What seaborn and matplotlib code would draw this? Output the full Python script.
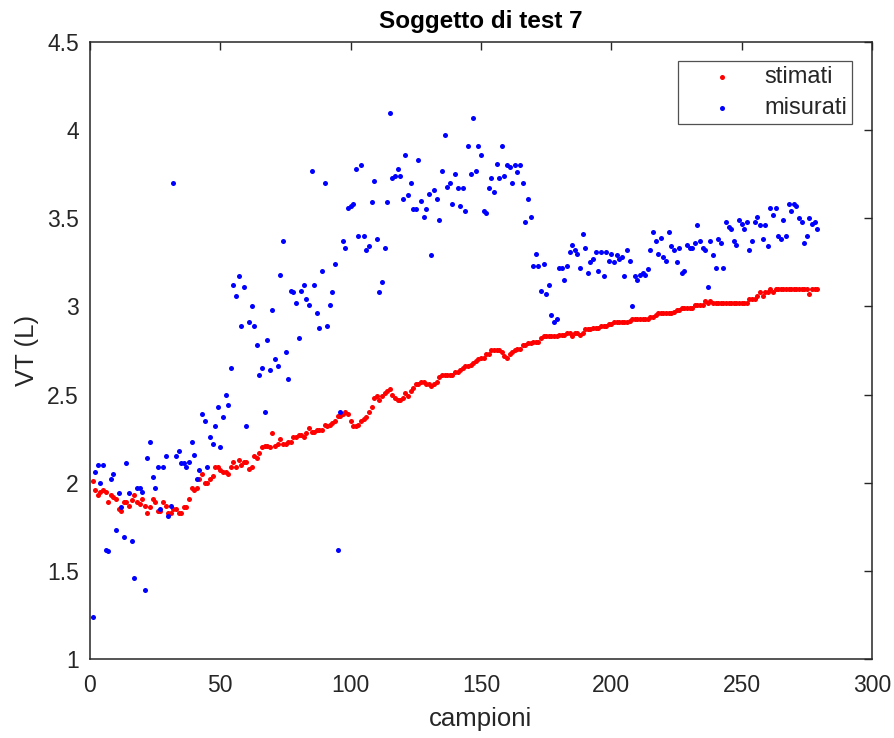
import numpy as np
import pandas as pd
import seaborn as sns
import matplotlib
matplotlib.use("Agg")
import matplotlib.pyplot as plt

# stimati (red) - one value per sample
stimati = [
    2.01, 1.96, 1.93, 1.95, 1.96, 1.95, 1.89, 1.93, 1.92, 1.91,
    1.85, 1.84, 1.89, 1.89, 1.87, 1.90, 1.93, 1.89, 1.88, 1.91,
    1.87, 1.83, 1.86, 1.91, 1.89, 1.84, 1.84, 1.89, 1.87, 1.83,
    1.83, 1.85, 1.85, 1.83, 1.83, 1.86, 1.86, 1.91, 1.97, 1.96,
    1.97, 2.02, 2.05, 2.00, 2.00, 2.02, 2.04, 2.09, 2.09, 2.07,
    2.06, 2.06, 2.05, 2.09, 2.12, 2.09, 2.13, 2.10, 2.12, 2.12,
    2.08, 2.09, 2.15, 2.14, 2.17, 2.20, 2.21, 2.21, 2.20, 2.28,
    2.21, 2.22, 2.25, 2.22, 2.22, 2.23, 2.23, 2.26, 2.26, 2.27,
    2.27, 2.26, 2.28, 2.31, 2.29, 2.29, 2.30, 2.30, 2.30, 2.33,
    2.32, 2.33, 2.34, 2.35, 2.38, 2.38, 2.39, 2.40, 2.39, 2.35,
    2.32, 2.32, 2.33, 2.35, 2.36, 2.37, 2.40, 2.43, 2.48, 2.49,
    2.47, 2.49, 2.51, 2.52, 2.53, 2.50, 2.48, 2.47, 2.47, 2.48,
    2.51, 2.49, 2.52, 2.54, 2.56, 2.56, 2.57, 2.57, 2.56, 2.56,
    2.55, 2.56, 2.57, 2.60, 2.61, 2.61, 2.61, 2.61, 2.61, 2.63,
    2.63, 2.64, 2.65, 2.66, 2.66, 2.67, 2.68, 2.69, 2.70, 2.71,
    2.71, 2.73, 2.73, 2.75, 2.75, 2.75, 2.75, 2.74, 2.72, 2.71,
    2.73, 2.74, 2.75, 2.76, 2.76, 2.78, 2.78, 2.79, 2.79, 2.80,
    2.80, 2.80, 2.82, 2.83, 2.83, 2.83, 2.83, 2.83, 2.83, 2.84,
    2.84, 2.84, 2.85, 2.85, 2.83, 2.85, 2.85, 2.84, 2.85, 2.87,
    2.87, 2.87, 2.88, 2.88, 2.88, 2.89, 2.89, 2.89, 2.90, 2.90,
    2.91, 2.91, 2.91, 2.91, 2.91, 2.91, 2.92, 2.93, 2.93, 2.93,
    2.93, 2.93, 2.93, 2.93, 2.94, 2.94, 2.95, 2.96, 2.96, 2.96,
    2.96, 2.96, 2.96, 2.97, 2.98, 2.98, 2.99, 2.99, 2.99, 2.99,
    2.99, 3.01, 3.01, 3.01, 3.01, 3.03, 3.02, 3.03, 3.02, 3.02,
    3.02, 3.02, 3.02, 3.02, 3.02, 3.02, 3.02, 3.02, 3.02, 3.02,
    3.02, 3.02, 3.04, 3.04, 3.04, 3.06, 3.08, 3.06, 3.08, 3.08,
    3.10, 3.08, 3.10, 3.10, 3.10, 3.10, 3.10, 3.10, 3.10, 3.10,
    3.10, 3.10, 3.10, 3.10, 3.10, 3.07, 3.10, 3.10, 3.10,
]

# misurati (blue)
misurati = [
    1.24, 2.06, 2.10, 2.00, 2.10, 1.62, 1.61, 2.02, 2.05, 1.73,
    1.94, 1.86, 1.69, 2.11, 1.94, 1.67, 1.46, 1.97, 1.97, 1.95,
    1.39, 2.14, 2.23, 2.03, 1.97, 2.09, 1.85, 2.09, 2.15, 1.81,
    1.87, 3.70, 2.15, 2.18, 2.11, 2.11, 2.09, 2.12, 2.23, 2.16,
    2.02, 2.07, 2.39, 2.35, 2.09, 2.26, 2.22, 2.32, 2.43, 2.20,
    2.37, 2.50, 2.44, 2.65, 3.12, 3.06, 3.17, 2.89, 3.11, 2.32,
    2.91, 3.00, 2.89, 2.78, 2.61, 2.65, 2.40, 2.81, 2.64, 2.98,
    2.70, 2.66, 3.18, 3.37, 2.74, 2.59, 3.09, 3.08, 3.02, 2.82,
    3.09, 3.12, 3.04, 3.01, 3.77, 3.12, 2.96, 2.88, 3.20, 3.70,
    2.89, 3.01, 3.08, 3.24, 1.62, 2.40, 3.37, 3.33, 3.56, 3.57,
    3.58, 3.78, 3.40, 3.80, 3.40, 3.32, 3.34, 3.59, 3.71, 3.38,
    3.08, 3.14, 3.33, 3.59, 4.10, 3.73, 3.74, 3.78, 3.74, 3.61,
    3.86, 3.63, 3.70, 3.55, 3.55, 3.83, 3.60, 3.51, 3.55, 3.64,
    3.29, 3.66, 3.61, 3.49, 3.77, 3.97, 3.68, 3.70, 3.58, 3.75,
    3.67, 3.57, 3.67, 3.54, 3.91, 3.75, 4.07, 3.77, 3.91, 3.86,
    3.54, 3.53, 3.67, 3.73, 3.65, 3.81, 3.73, 3.91, 3.74, 3.80,
    3.79, 3.70, 3.80, 3.76, 3.80, 3.70, 3.48, 3.61, 3.51, 3.23,
    3.30, 3.23, 3.09, 3.24, 3.07, 3.12, 2.95, 2.91, 2.93, 3.22,
    3.22, 3.15, 3.23, 3.31, 3.35, 3.32, 3.30, 3.22, 3.41, 3.33,
    3.19, 3.25, 3.27, 3.31, 3.20, 3.31, 3.17, 3.31, 3.26, 3.30,
    3.25, 3.29, 3.27, 3.28, 3.17, 3.32, 3.26, 3.00, 3.17, 3.15,
    3.18, 3.19, 3.18, 3.21, 3.32, 3.42, 3.37, 3.30, 3.39, 3.28,
    3.26, 3.42, 3.34, 3.32, 3.25, 3.33, 3.19, 3.20, 3.35, 3.33,
    3.33, 3.36, 3.46, 3.37, 3.33, 3.32, 3.11, 3.37, 3.29, 3.22,
    3.38, 3.36, 3.22, 3.48, 3.45, 3.44, 3.37, 3.35, 3.49, 3.47,
    3.44, 3.48, 3.32, 3.37, 3.48, 3.51, 3.46, 3.38, 3.46, 3.34,
    3.56, 3.52, 3.56, 3.40, 3.38, 3.49, 3.40, 3.58, 3.54, 3.58,
    3.57, 3.50, 3.48, 3.36, 3.40, 3.50, 3.47, 3.48, 3.44,
]

campioni = np.arange(1, len(stimati) + 1)

sns.set_style("white")
plt.rcParams['font.family'] = ['Liberation Sans', 'DejaVu Sans']
dark = '#262626'

fig = plt.figure(figsize=(8.95, 7.38), dpi=100)
ax = fig.add_axes([90 / 895, 79 / 738, 782 / 895, 617 / 738])

sns.scatterplot(x=campioni, y=stimati, color='#ff0000', s=13, linewidth=0,
                label='stimati', ax=ax)
sns.scatterplot(x=campioni[:len(misurati)], y=misurati, color='#0000ff', s=13,
                linewidth=0, label='misurati', ax=ax)

ax.set_xlim(0, 300)
ax.set_ylim(1, 4.5)
ax.set_xticks([0, 50, 100, 150, 200, 250, 300])
ax.set_yticks([1, 1.5, 2, 2.5, 3, 3.5, 4, 4.5])
ax.set_yticklabels(['1', '1.5', '2', '2.5', '3', '3.5', '4', '4.5'])
ax.tick_params(direction='in', length=6, width=1, colors=dark, labelsize=16.5,
               top=True, right=True)
ax.tick_params(axis='x', pad=11)
ax.tick_params(axis='y', pad=8)
for sp in ax.spines.values():
    sp.set_color(dark)
    sp.set_linewidth(1.1)

ax.set_xlabel('campioni', fontsize=18.5, color=dark, labelpad=7)
ax.set_ylabel('VT (L)', fontsize=18.5, color=dark, labelpad=6)
ax.set_title('Soggetto di test 7', fontsize=17.5, fontweight='bold', color='black', pad=10)

leg = ax.legend(loc='upper right', bbox_to_anchor=(0.974, 0.969), fontsize=17,
                frameon=True, fancybox=False, borderaxespad=0, borderpad=0.2,
                labelspacing=0.4, handlelength=3.3, handletextpad=0.15)
leg.get_frame().set_edgecolor(dark)
leg.get_frame().set_linewidth(0.9)
for t in leg.get_texts():
    t.set_color(dark)

fig.savefig('out.png', dpi=100)
